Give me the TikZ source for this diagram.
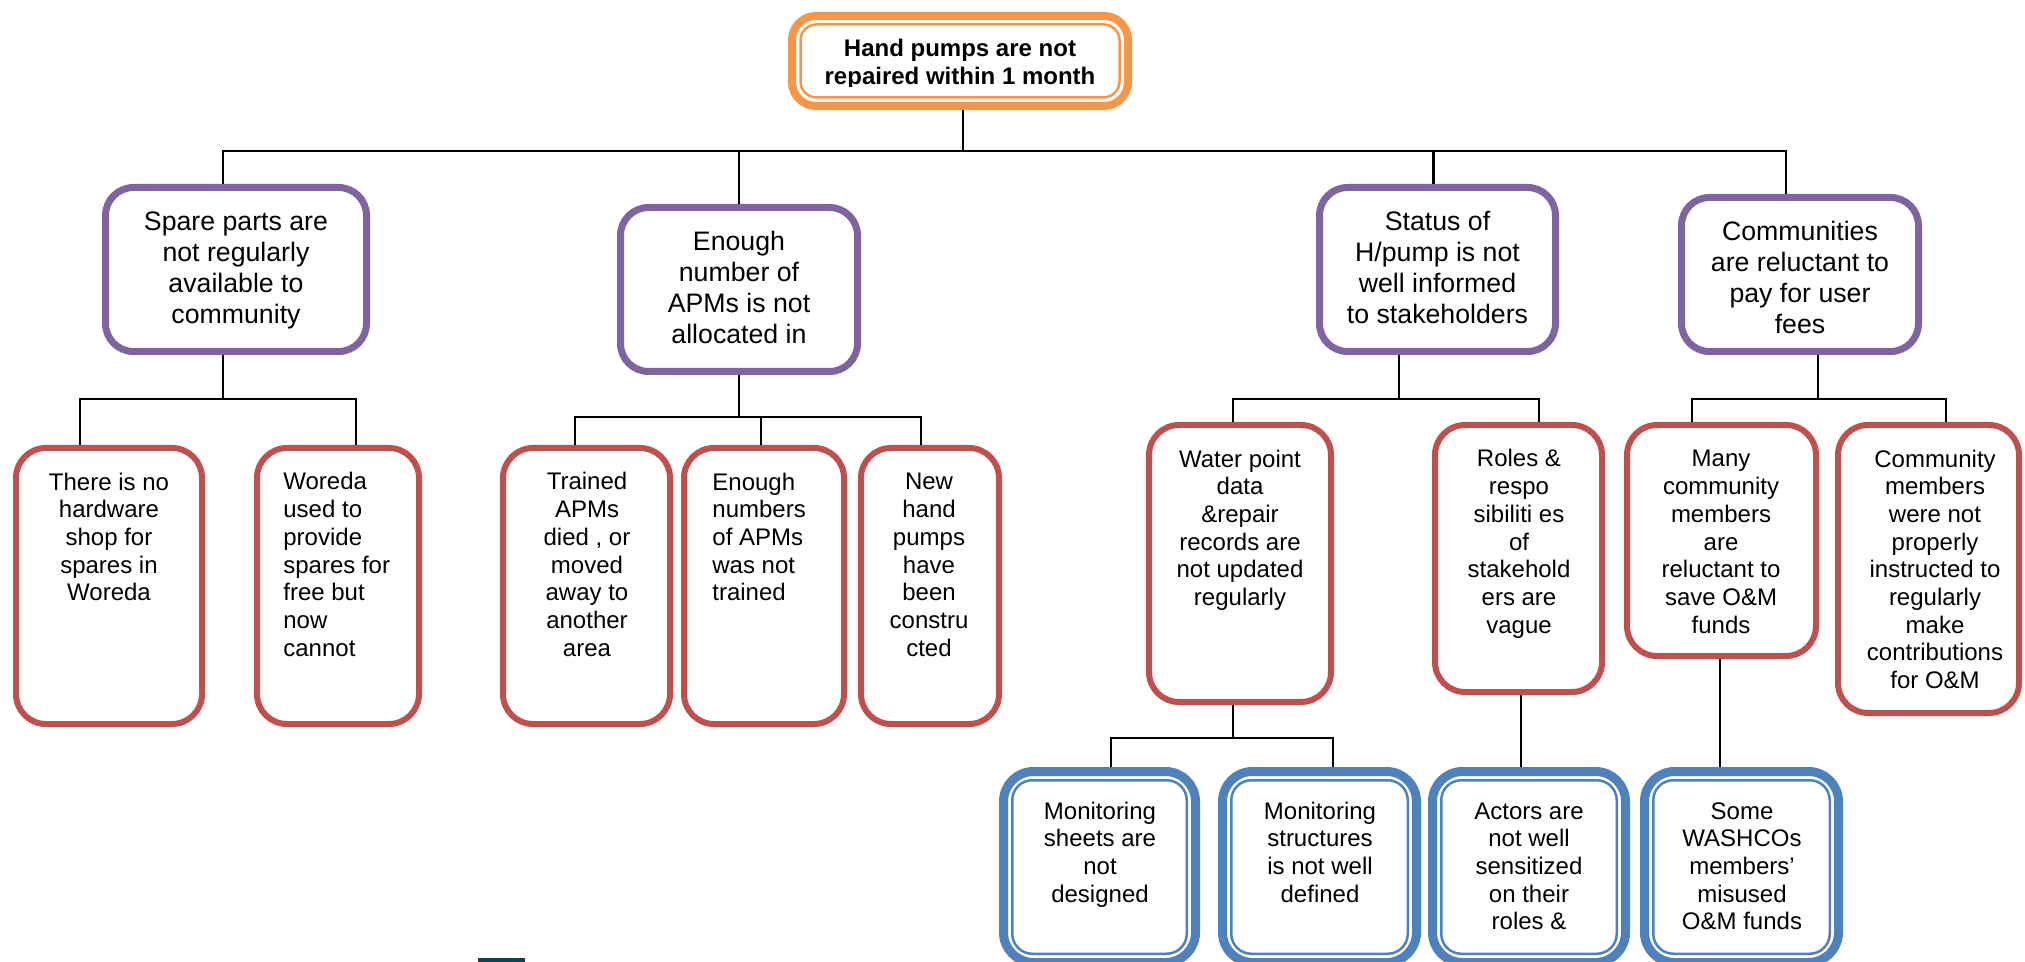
\documentclass[tikz,border=0pt]{standalone}
\usepackage{fontspec}
\setmainfont{Liberation Sans}
\definecolor{hporange}{HTML}{F79646}
\definecolor{hppurple}{HTML}{8064A2}
\definecolor{hpred}{HTML}{C0504D}
\definecolor{hpblue}{HTML}{4F81BD}
\tikzset{
  every node/.style={inner sep=0pt},
  titlebox/.style={draw=hporange, line width=4pt, rounded corners=12pt, fill=white},
  titleinner/.style={draw=hporange, line width=1.25pt, rounded corners=8pt},
  causebox/.style={draw=hppurple, line width=3.5pt, rounded corners=14pt, fill=white},
  subbox/.style={draw=hpred, line width=3pt, rounded corners=15pt, fill=white},
  rootbox/.style={draw=hpblue, line width=4.5pt, rounded corners=15pt, fill=white},
  rootinner/.style={draw=hpblue, line width=1.25pt, rounded corners=10pt},
  bigtxt/.style={font=\fontsize{13.35pt}{15.35pt}\selectfont, align=center, anchor=base},
  smalltxt/.style={font=\fontsize{12pt}{13.85pt}\selectfont, align=center, anchor=base},
  lefttxt/.style={smalltxt, align=left, anchor=base west},
  link/.style={line width=1.1pt}
}
\begin{document}
\begin{tikzpicture}[x=0.5pt,y=-0.5pt]
  \useasboundingbox (0,0) rectangle (2025,962);
  \clip (0,0) rectangle (2025,962);

  \node[titlebox, minimum width=168pt, minimum height=45pt] (top) at (960,61) {};
  \node[titleinner, minimum width=159.5pt, minimum height=36.5pt] (topin) at (960,61) {};
  \begin{scope}
    \clip (790,14) rectangle (1130,87);
    \node[font=\fontsize{12pt}{14pt}\selectfont\bfseries, align=center, anchor=base] (ttop) at (960,85)
      {Hand pumps are not\\repaired within 1 month};
  \end{scope}

  \node[causebox, minimum width=130.5pt, minimum height=82pt] (b1) at (236,269.5) {};
  \node[causebox, minimum width=118.5pt, minimum height=82pt] (b2) at (739,289.5) {};
  \node[causebox, minimum width=118pt, minimum height=82pt] (b3) at (1437.5,269.5) {};
  \node[causebox, minimum width=118.5pt, minimum height=77pt] (b4) at (1800,274.5) {};
  \node[bigtxt] (tb1) at (236,323.1) {Spare parts are\\not regularly\\available to\\community};
  \node[bigtxt] (tb2) at (739,343.1) {Enough\\number of\\APMs is not\\allocated in};
  \node[bigtxt] (tb3) at (1437.5,323.1) {Status of\\H/pump is not\\well informed\\to stakeholders};
  \node[bigtxt] (tb4) at (1800,333.1) {Communities\\are reluctant to\\pay for user\\fees};

  \node[subbox, minimum width=93pt, minimum height=138pt] (r1) at (109,586) {};
  \node[subbox, minimum width=81pt, minimum height=138pt] (r2) at (338,586) {};
  \node[subbox, minimum width=83.5pt, minimum height=138pt] (r3) at (586.5,586) {};
  \node[subbox, minimum width=80pt, minimum height=138pt] (r4) at (764,586) {};
  \node[subbox, minimum width=69pt, minimum height=138pt] (r5) at (930,586) {};
  \node[subbox, minimum width=91pt, minimum height=138.5pt] (r6) at (1240,563.5) {};
  \node[subbox, minimum width=83.5pt, minimum height=133.5pt] (r7) at (1518.5,558.5) {};
  \node[subbox, minimum width=94.5pt, minimum height=115.5pt] (r8) at (1721.5,540.5) {};
  \node[subbox, minimum width=90.5pt, minimum height=144pt] (r9) at (1928.5,569) {};
  \node[smalltxt] (tr1) at (109,600.8) {There is no\\hardware\\shop for\\spares in\\Woreda};
  \node[lefttxt] (tr2) at (283,656.2) {Woreda\\used to\\provide\\spares for\\free but\\now\\cannot};
  \node[smalltxt] (tr3) at (587,656.2) {Trained\\APMs\\died , or\\moved\\away to\\another\\area};
  \node[lefttxt] (tr4) at (712,600.8) {Enough\\numbers\\of APMs\\was not\\trained};
  \node[smalltxt] (tr5) at (929,656.2) {New\\hand\\pumps\\have\\been\\constru\\cted};
  \node[smalltxt] (tr6) at (1240,605.5) {Water point\\data\\\&repair\\records are\\not updated\\regularly};
  \node[smalltxt] (tr7) at (1519,633.2) {Roles \&\\respo\\sibiliti es\\of\\stakehold\\ers are\\vague};
  \node[smalltxt] (tr8) at (1721,633.2) {Many\\community\\members\\are\\reluctant to\\save O\&M\\funds};
  \node[smalltxt] (tr9) at (1935,688.6) {Community\\members\\were not\\properly\\instructed to\\regularly\\make\\contributions\\for O\&M};

  \node[rootbox, minimum width=96pt, minimum height=95.5pt] (l1) at (1099.5,867) {};
  \node[rootbox, minimum width=97pt, minimum height=95.5pt] (l2) at (1319.5,867) {};
  \node[rootbox, minimum width=96.5pt, minimum height=95.5pt] (l3) at (1529,867) {};
  \node[rootbox, minimum width=97pt, minimum height=95.5pt] (l4) at (1741.5,867) {};
  \node[rootinner, minimum width=87.25pt, minimum height=86.75pt] (l1in) at (l1) {};
  \node[rootinner, minimum width=88.25pt, minimum height=86.75pt] (l2in) at (l2) {};
  \node[rootinner, minimum width=87.75pt, minimum height=86.75pt] (l3in) at (l3) {};
  \node[rootinner, minimum width=88.25pt, minimum height=86.75pt] (l4in) at (l4) {};
  \node[smalltxt] (tl1) at (1100,902.1) {Monitoring\\sheets are\\not\\designed};
  \node[smalltxt] (tl2) at (1320,902.1) {Monitoring\\structures\\is not well\\defined};
  \node[smalltxt] (tl3) at (1529,929.8) {Actors are\\not well\\sensitized\\on their\\roles \&};
  \node[smalltxt] (tl4) at (1742,929.8) {Some\\WASHCOs\\members’\\misused\\O\&M funds};

  \draw[link] ([xshift=1.5pt]top.south) -- ++(0,41) coordinate (j0);
  \draw[link] (j0) -| ([xshift=-6.5pt]b1.north);
  \draw[link] (j0) -| (b2.north);
  \draw[link] (j0) -| ([xshift=-2pt]b3.north);
  \draw[link] (j0) -| ([xshift=-7pt]b4.north);

  \draw[link] ([xshift=-6.5pt]b1.south) -- ++(0,44) coordinate (j1);
  \draw[link] (j1) -| ([xshift=-14.5pt]r1.north);
  \draw[link] (j1) -| ([xshift=9pt]r2.north);

  \draw[link] (b2.south) -- ++(0,42) coordinate (j2);
  \draw[link] (j2) -| ([xshift=-5.75pt]r3.north);
  \draw[link] (j2) -| ([xshift=-1.5pt]r4.north);
  \draw[link] (j2) -| ([xshift=-4.5pt]r5.north);

  \draw[link] ([xshift=-19.25pt]b3.south) -- ++(0,44) coordinate (j3);
  \draw[link] (j3) -| ([xshift=-3.5pt]r6.north);
  \draw[link] (j3) -| ([xshift=10.25pt]r7.north);

  \draw[link] ([xshift=9pt]b4.south) -- ++(0,44) coordinate (j4);
  \draw[link] (j4) -| ([xshift=-14.75pt]r8.north);
  \draw[link] (j4) -| ([xshift=8.75pt]r9.north);

  \draw[link] ([xshift=-3.5pt]r6.south) -- ++(0,33) coordinate (j6);
  \draw[link] (j6) -| ([xshift=5.75pt]l1.north);
  \draw[link] (j6) -| ([xshift=6.75pt]l2.north);

  \draw[link] ([xshift=1.25pt]r7.south) -- ([xshift=-4pt]l3.north);
  \draw[link] ([xshift=-0.75pt]r8.south) -- ([xshift=-10.75pt]l4.north);

  \draw[black!80, fill=teal!60!black] (478,958.5) rectangle (524,964);
\end{tikzpicture}
\end{document}
